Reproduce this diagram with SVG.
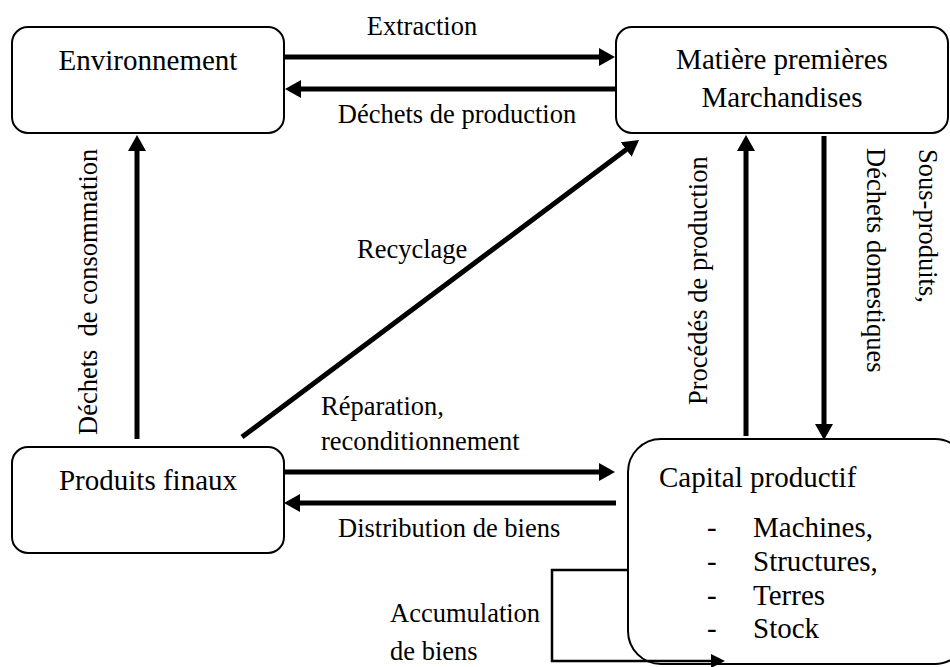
<svg xmlns="http://www.w3.org/2000/svg" width="950" height="667" viewBox="0 0 950 667">
<style>
.box{fill:#fff;stroke:#000;stroke-width:2}
.nt{font-family:"Liberation Serif","Times New Roman",serif;font-size:29px;fill:#000}
.lb{font-family:"Liberation Serif","Times New Roman",serif;font-size:26.5px;fill:#000}
.mid{text-anchor:middle}
.arr{fill:none;stroke:#000;stroke-width:5;marker-end:url(#ah)}
.thin{fill:none;stroke:#000;stroke-width:2.5;marker-end:url(#ahs)}
</style>
<defs>
<marker id="ah" markerUnits="userSpaceOnUse" viewBox="0 0 16 18" refX="6" refY="9" markerWidth="16" markerHeight="18" orient="auto">
<path d="M0,0 L16,9 L0,18 Z" fill="#000"/>
</marker>
<marker id="ahs" markerUnits="userSpaceOnUse" viewBox="0 0 14 14" refX="4" refY="7" markerWidth="14" markerHeight="14" orient="auto">
<path d="M0,0 L14,7 L0,14 Z" fill="#000"/>
</marker>
</defs>
<rect width="950" height="667" fill="#fff"/>

<g id="environnement">
<rect class="box" x="12" y="27" width="272" height="106" rx="16"/>
<text class="nt mid" x="148" y="70">Environnement</text>
</g>

<g id="matieres">
<rect class="box" x="616" y="27" width="332" height="106" rx="16"/>
<text class="nt mid" x="782" y="69">Matière premières</text>
<text class="nt mid" x="782" y="107">Marchandises</text>
</g>

<g id="produits">
<rect class="box" x="12" y="447" width="272" height="106" rx="16"/>
<text class="nt mid" x="148" y="490">Produits finaux</text>
</g>

<g id="capital">
<rect class="box" x="628" y="439" width="340" height="225" rx="33"/>
<text class="nt" x="659" y="487">Capital productif</text>
<text class="nt" x="707" y="537">-</text>
<text class="nt" x="753" y="537">Machines,</text>
<text class="nt" x="707" y="571">-</text>
<text class="nt" x="753" y="571">Structures,</text>
<text class="nt" x="707" y="605">-</text>
<text class="nt" x="753" y="605">Terres</text>
<text class="nt" x="707" y="638">-</text>
<text class="nt" x="753" y="638">Stock</text>
</g>

<g id="connectors">
<line class="arr" x1="284" y1="57" x2="605" y2="57"/>
<line class="arr" x1="616" y1="89" x2="295" y2="89"/>
<line class="arr" x1="137" y1="439" x2="137" y2="145"/>
<line class="arr" x1="242" y1="437" x2="631" y2="146"/>
<line class="arr" x1="746" y1="436" x2="746" y2="145"/>
<line class="arr" x1="824" y1="136" x2="824" y2="430"/>
<line class="arr" x1="284" y1="472" x2="605" y2="472"/>
<line class="arr" x1="616" y1="503" x2="294" y2="503"/>
<path class="thin" d="M628,570 H552 V661 H715"/>
</g>

<g id="labels">
<text class="lb mid" x="422" y="35">Extraction</text>
<text class="lb mid" x="457" y="123">Déchets de production</text>
<text class="lb" transform="translate(97,435) rotate(-90)">Déchets&#160; de consommation</text>
<text class="lb" x="357" y="258">Recyclage</text>
<text class="lb" transform="translate(707,405) rotate(-90)">Procédés de production</text>
<text class="lb" transform="translate(919,149) rotate(90)">Sous-produits,</text>
<text class="lb" transform="translate(867,148) rotate(90)">Déchets domestiques</text>
<text class="lb" x="321" y="415">Réparation,</text>
<text class="lb" x="321" y="450">reconditionnement</text>
<text class="lb" x="338" y="537">Distribution de biens</text>
<text class="lb" x="390" y="622">Accumulation</text>
<text class="lb" x="390" y="660">de biens</text>
</g>
</svg>
